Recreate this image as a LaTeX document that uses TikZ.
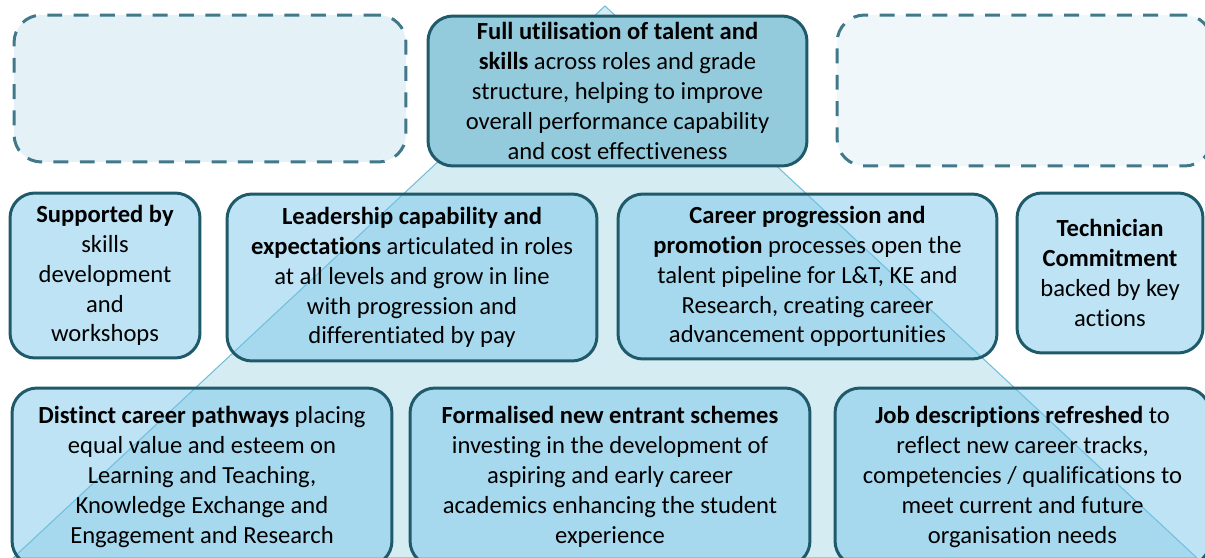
\documentclass[tikz,border=0pt]{standalone}
\usepackage{fontspec}
\setmainfont{Carlito}[Ligatures={NoCommon,NoContextual}, Contextuals=NoAlternate]
\definecolor{boxedge}{HTML}{1F5A6A}
\definecolor{dashedge}{HTML}{41788A}
\definecolor{boxfill}{HTML}{6DC1E8}
\definecolor{goalfill}{HTML}{93CBDD}
\definecolor{pyrfill}{HTML}{D6ECF3}
\definecolor{pyredge}{HTML}{72BEDA}
\definecolor{spareleft}{HTML}{E4F2F8}
\definecolor{spareright}{HTML}{EFF7FB}

\begin{document}
\begin{tikzpicture}[x=0.02cm, y=-0.02cm,
    tier/.style={rectangle, rounded corners=0.5cm, draw=boxedge, line width=1.7pt, fill=boxfill, fill opacity=0.45, text opacity=1, align=center, text centered, font=\fontsize{14}{17}\selectfont},
    goal/.style={tier, fill=goalfill, fill opacity=1},
    blank/.style={rectangle, rounded corners=0.55cm, draw=dashedge, line width=1.7pt, dash pattern=on 8.5pt off 6.5pt}
]
\useasboundingbox (0,0) rectangle (1205,558);
\clip (0,0) rectangle (1205,558);
% Pyramid behind the boxes
\filldraw[fill=pyrfill, draw=pyredge, line width=0.6pt] (605,6) -- (13,558) -- (1197,558) -- cycle;
% Empty placeholders
\node[blank, fill=spareleft, minimum width=7.84cm, minimum height=2.94cm] (spareL) at (210,88.5) {};
\node[blank, fill=spareright, minimum width=7.5cm, minimum height=3.02cm] (spareR) at (1024.5,90.5) {};
% Top of the pyramid
\node[goal, minimum width=7.58cm, minimum height=3cm] (talent) at (617.5,91) {\textbf{Full utilisation of talent and}\\ \textbf{skills} across roles and grade\\ structure, helping to improve\\ overall performance capability\\ and cost effectiveness};
% Middle tier
\node[tier, minimum width=3.8cm, minimum height=3.3cm] (skills) at (105,275.5) {\textbf{Supported by}\\ skills\\ development\\ and\\ workshops};
\node[tier, minimum width=7.4cm, minimum height=3.34cm] (leadership) at (412,277.5) {\textbf{Leadership capability and}\\ \textbf{expectations} articulated in roles\\ at all levels and grow in line\\ with progression and\\ differentiated by pay};
\node[tier, minimum width=7.58cm, minimum height=3.3cm] (promotion) at (807.5,276.5) {\textbf{Career progression and}\\ \textbf{promotion} processes open the\\ talent pipeline for L\&T, KE and\\ Research, creating career\\ advancement opportunities};
\node[tier, minimum width=3.72cm, minimum height=3.2cm] (technician) at (1110,273) {\textbf{Technician}\\ \textbf{Commitment}\\ backed by key\\ actions};
% Bottom tier
\node[tier, minimum width=7.6cm, minimum height=3.56cm] (pathways) at (202,477) {\textbf{Distinct career pathways} placing\\ equal value and esteem on\\ Learning and Teaching,\\ Knowledge Exchange and\\ Engagement and Research};
\node[tier, minimum width=8cm, minimum height=3.56cm] (entrants) at (610,477) {\textbf{Formalised new entrant schemes}\\ investing in the development of\\ aspiring and early career\\ academics enhancing the student\\ experience};
\node[tier, minimum width=7.5cm, minimum height=3.56cm] (jobs) at (1022.5,477) {\textbf{Job descriptions refreshed} to\\ reflect new career tracks,\\ competencies / qualifications to\\ meet current and future\\ organisation needs};
\end{tikzpicture}
\end{document}
